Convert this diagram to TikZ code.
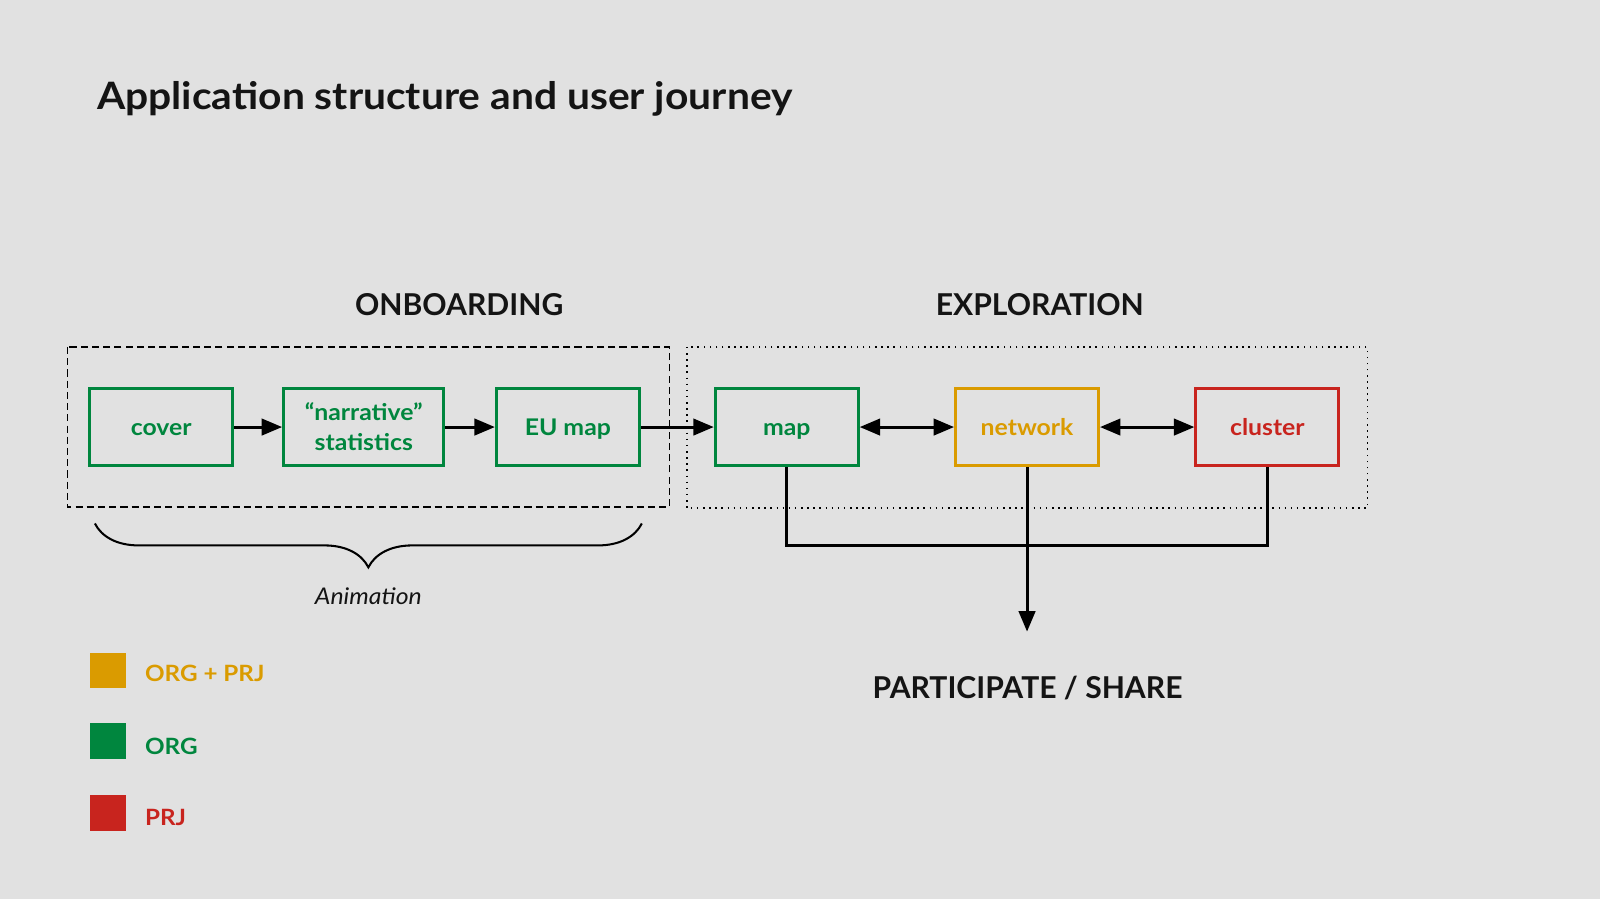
\documentclass[tikz,border=0pt]{standalone}
\usepackage{fontspec}
\setmainfont{Lato}
\newfontfamily\widelato{Lato}[FakeStretch=1.08]
\usetikzlibrary{arrows.meta,decorations.pathreplacing}

\definecolor{bggray}{RGB}{225,225,225}
\definecolor{inkblack}{RGB}{20,20,20}
\definecolor{orggreen}{RGB}{0,134,62}
\definecolor{bothorange}{RGB}{218,155,0}
\definecolor{prjred}{RGB}{200,36,30}

\tikzset{
	screen/.style={draw=#1, text=#1, line width=3pt, minimum width=140pt, minimum height=75pt,
		inner sep=0pt, align=center, text height=22pt, text depth=5pt,
		font=\widelato\fontsize{22.5}{29}\selectfont\bfseries},
	flow/.style={line width=3pt, -{Triangle[length=20pt,width=16pt]}},
	twoway/.style={line width=3pt, {Triangle[length=20pt,width=16pt]}-{Triangle[length=20pt,width=16pt]}},
	heading/.style={anchor=base, text=inkblack, inner sep=0pt, font=\fontsize{29.5}{34}\selectfont\bfseries},
	swatch/.style={fill=#1, minimum size=35pt, inner sep=0pt},
	legendtext/.style={text=#1, anchor=base west, inner sep=0pt, font=\widelato\fontsize{22}{26}\selectfont\bfseries},
}

\begin{document}
\begin{tikzpicture}[x=1pt,y=-1pt]
	\fill[bggray] (0,0) rectangle (1568,881);
	\useasboundingbox (0,0) rectangle (1568,881);
	
	\node[anchor=base west, text=inkblack, inner sep=0pt, font=\widelato\fontsize{37}{40}\selectfont\bfseries] (title) at (95,107) {Application structure and user journey};
	
	\node[heading] (onboarding) at (450,309) {ONBOARDING};
	\node[heading] (exploration) at (1019,309) {EXPLORATION};
	
	% groups
	\draw[line width=1.5pt, dash pattern=on 7pt off 4pt] (66,340) rectangle (656,497);
	\draw[line width=1.5pt, dash pattern=on 1.5pt off 4.5pt] (673,340) rectangle (1340,498);
	
	% screens
	\node[screen=orggreen] (cover) at (158,418.5) {cover};
	\node[screen=orggreen, minimum width=157pt, text height=51pt] (narrative) at (356.5,418.5) {“narrative”\\statistics};
	\node[screen=orggreen] (eumap) at (556.5,418.5) {EU map};
	\node[screen=orggreen] (map) at (771,418.5) {map};
	\node[screen=bothorange] (network) at (1006.5,418.5) {network};
	\node[screen=prjred] (cluster) at (1242,418.5) {cluster};
	
	\draw[flow] (cover) -- (narrative);
	\draw[flow] (narrative) -- (eumap);
	\draw[flow] (eumap) -- (map);
	\draw[twoway] (map) -- (network);
	\draw[twoway] (network) -- (cluster);
	
	\draw[line width=3pt] (map.south) -- ++(0,77) -| (cluster.south);
	\coordinate (sharetip) at (1006.5,619);
	\draw[flow] (network.south) -- (sharetip);
	\node[heading] (share) at (1007,685) {PARTICIPATE / SHARE};
	
	% animation brace
	\draw[line width=2pt, decorate, decoration={brace, mirror, amplitude=43pt}] (93,513) -- (629,513);
	\node[anchor=base, text=inkblack, inner sep=0pt, font=\widelato\fontsize{22.5}{26}\selectfont\itshape] (animation) at (361,592) {Animation};
	
	% legend
	\node[swatch=bothorange] (keyboth) at (105.5,657) {};
	\node[swatch=orggreen] (keyorg) at (105.5,726.5) {};
	\node[swatch=prjred] (keyprj) at (105.5,796.5) {};
	\node[legendtext=bothorange] at (142,668) {ORG + PRJ};
	\node[legendtext=orggreen] at (142,739) {ORG};
	\node[legendtext=prjred] at (142,809) {PRJ};
\end{tikzpicture}
\end{document}
